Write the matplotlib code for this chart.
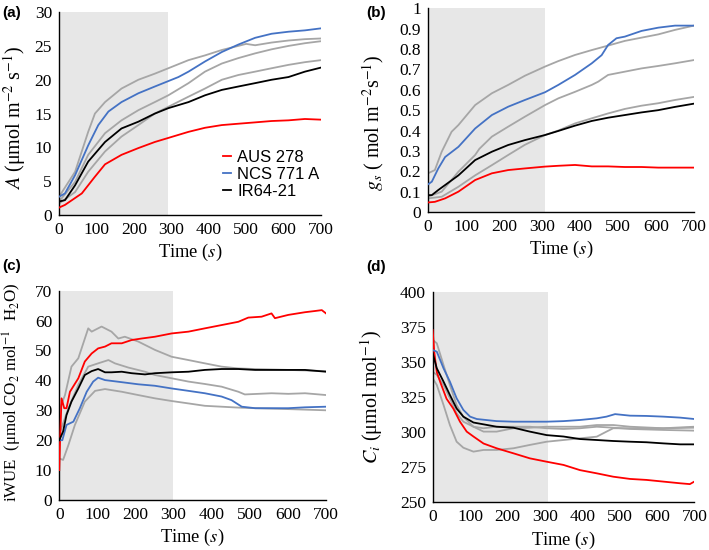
import matplotlib
matplotlib.use("Agg")
import matplotlib.pyplot as plt
from matplotlib.ticker import FuncFormatter

plt.rcParams['font.family'] = ['Liberation Serif', 'DejaVu Serif']
plt.rcParams['mathtext.fontset'] = 'stix'

RED = '#ff0000'
BLUE = '#4472c4'
BLACK = '#000000'
GRAY = '#a6a6a6'
SHADE = '#e7e7e7'

# ---------------- Panel (a): A ----------------
a_red_t = [0, 16, 61, 95, 123, 167, 212, 256, 292, 346, 390, 435, 479, 524, 568, 613, 657, 700]
a_red_v = [1.1, 1.5, 3.2, 5.6, 7.5, 8.9, 9.9, 10.8, 11.4, 12.3, 12.9, 13.3, 13.5, 13.7, 13.9, 14.0, 14.2, 14.1]
a_blue_t = [0, 16, 43, 78, 105, 132, 167, 212, 256, 292, 319, 346, 390, 435, 479, 524, 568, 613, 657, 700]
a_blue_v = [2.7, 3.2, 5.9, 10.3, 13.3, 15.3, 16.7, 18.0, 19.0, 19.8, 20.4, 21.2, 22.7, 24.1, 25.2, 26.2, 26.8, 27.1, 27.3, 27.6]
a_black_t = [0, 16, 43, 78, 123, 167, 212, 256, 292, 346, 390, 435, 479, 524, 568, 613, 657, 700]
a_black_v = [2.0, 2.2, 4.4, 7.9, 10.8, 12.8, 13.8, 15.0, 15.8, 16.7, 17.7, 18.5, 19.0, 19.5, 20.0, 20.4, 21.2, 21.8]
a_g1_t = [0, 43, 78, 96, 123, 167, 212, 256, 292, 346, 390, 435, 479, 500, 524, 568, 613, 657, 700]
a_g1_v = [2.7, 6.4, 12.3, 15.0, 16.7, 18.7, 20.0, 20.9, 21.7, 22.9, 23.6, 24.4, 25.0, 25.3, 25.1, 25.5, 25.8, 26.0, 26.1]
a_g2_t = [0, 43, 78, 123, 167, 212, 256, 292, 346, 390, 435, 479, 524, 568, 613, 657, 700]
a_g2_v = [2.0, 4.9, 8.9, 12.1, 14.0, 15.5, 16.7, 17.7, 19.5, 21.2, 22.4, 23.2, 23.9, 24.5, 25.0, 25.4, 25.7]
a_g3_t = [0, 43, 78, 123, 167, 212, 256, 292, 346, 390, 435, 479, 524, 568, 613, 657, 700]
a_g3_v = [1.7, 3.4, 6.4, 9.4, 11.6, 13.3, 15.0, 16.0, 17.5, 18.7, 20.0, 20.7, 21.2, 21.7, 22.2, 22.6, 22.9]

# ---------------- Panel (b): gs ----------------
b_red_t = [0, 18, 45, 80, 124, 168, 211, 255, 308, 343, 387, 431, 474, 518, 562, 606, 650, 700]
b_red_v = [0.047, 0.05, 0.067, 0.10, 0.157, 0.19, 0.206, 0.214, 0.223, 0.227, 0.231, 0.224, 0.224, 0.221, 0.221, 0.218, 0.218, 0.218]
b_blue_t = [0, 10, 27, 45, 80, 124, 168, 211, 255, 308, 343, 387, 431, 457, 474, 496, 518, 562, 606, 650, 700]
b_blue_v = [0.136, 0.149, 0.214, 0.27, 0.32, 0.41, 0.476, 0.517, 0.55, 0.588, 0.624, 0.673, 0.73, 0.77, 0.82, 0.853, 0.861, 0.889, 0.905, 0.915, 0.915]
b_black_t = [0, 10, 27, 80, 124, 168, 211, 255, 308, 343, 387, 431, 474, 518, 562, 606, 650, 700]
b_black_v = [0.083, 0.083, 0.108, 0.18, 0.255, 0.296, 0.329, 0.353, 0.378, 0.398, 0.424, 0.447, 0.463, 0.476, 0.489, 0.50, 0.516, 0.532]
b_g1_t = [0, 18, 36, 62, 80, 124, 168, 211, 255, 308, 343, 387, 431, 474, 518, 562, 606, 650, 700]
b_g1_v = [0.19, 0.206, 0.296, 0.394, 0.427, 0.525, 0.583, 0.624, 0.669, 0.714, 0.741, 0.771, 0.795, 0.817, 0.84, 0.856, 0.872, 0.894, 0.915]
b_g2_t = [0, 36, 80, 124, 135, 168, 211, 255, 308, 343, 387, 431, 448, 474, 518, 562, 606, 650, 700]
b_g2_v = [0.075, 0.10, 0.198, 0.28, 0.31, 0.37, 0.419, 0.468, 0.525, 0.558, 0.59, 0.624, 0.64, 0.673, 0.689, 0.705, 0.717, 0.73, 0.746]
b_g3_t = [0, 36, 80, 124, 168, 211, 255, 308, 343, 387, 431, 474, 518, 562, 606, 650, 700]
b_g3_v = [0.067, 0.075, 0.124, 0.18, 0.23, 0.28, 0.33, 0.378, 0.40, 0.435, 0.46, 0.484, 0.506, 0.522, 0.534, 0.55, 0.565]

# ---------------- Panel (c): iWUE ----------------
c_red_t = [0, 2, 6, 13, 19, 28, 50, 67, 85, 102, 120, 137, 164, 190, 216, 251, 295, 339, 382, 426, 470, 496, 531, 557, 566, 601, 645, 671, 689, 700]
c_red_v = [10, 19.5, 34, 30.7, 30.7, 36.2, 40.7, 46.3, 49, 50.7, 51.3, 52.4, 52.4, 53.5, 54, 54.6, 55.7, 56.3, 57.4, 58.5, 59.6, 61, 61.3, 62.4, 60.8, 61.9, 62.8, 63.2, 63.5, 62.4]
c_black_t = [0, 10, 19, 32, 50, 67, 85, 102, 120, 137, 164, 190, 225, 251, 295, 339, 382, 426, 470, 514, 557, 601, 645, 700]
c_black_v = [20, 22.9, 28.4, 32.9, 37.3, 41.8, 43.1, 43.8, 42.7, 42.7, 42.9, 42.4, 42.0, 42.4, 42.7, 42.9, 43.5, 43.8, 43.8, 43.5, 43.5, 43.5, 43.5, 42.9]
c_blue_t = [0, 8, 19, 37, 54, 72, 89, 102, 120, 164, 207, 251, 295, 339, 382, 426, 452, 479, 514, 557, 601, 645, 700]
c_blue_v = [20, 20, 25.1, 26.2, 30.7, 36.2, 39.6, 40.9, 40.1, 39.4, 38.7, 38.2, 37.3, 36.5, 35.7, 34.6, 33.4, 31.2, 30.7, 30.7, 30.7, 31.0, 31.2]
c_g1_t = [0, 15, 32, 50, 76, 85, 111, 137, 155, 172, 207, 251, 295, 339, 382, 426, 470, 514, 601, 700]
c_g1_v = [30, 35.1, 44.6, 47.4, 57.4, 56.3, 58, 56.3, 54, 54.6, 53, 50.2, 47.9, 46.8, 45.7, 44.6, 44, 43.8, 43.5, 43.1]
c_g2_t = [0, 24, 50, 76, 102, 129, 146, 181, 225, 251, 295, 339, 382, 426, 470, 487, 557, 601, 645, 700]
c_g2_v = [22, 30.7, 38.5, 44.6, 45.7, 46.8, 45.7, 44.3, 42.9, 41.8, 40.7, 39.6, 38.8, 37.9, 36.2, 35.3, 35.7, 35.5, 35.7, 35.1]
c_g3_t = [0, 10, 24, 41, 67, 94, 120, 164, 207, 251, 295, 339, 382, 426, 470, 514, 601, 700]
c_g3_v = [13.9, 13.4, 18.4, 25.1, 32.9, 36.5, 37.1, 36.2, 35.1, 34, 33.1, 32.3, 31.5, 31.2, 30.9, 30.7, 30.4, 30.0]

# ---------------- Panel (d): Ci ----------------
d_red_t = [0, 4, 11, 20, 37, 55, 73, 91, 109, 136, 171, 216, 260, 305, 350, 394, 439, 483, 528, 572, 617, 662, 688, 700]
d_red_v = [373, 357.6, 343, 336, 324, 317, 307.6, 300.5, 297, 292, 288.6, 285, 281.4, 279, 276.7, 273, 270.7, 268.3, 266.7, 266, 264.8, 263.6, 263, 264.8]
d_blue_t = [0, 11, 29, 46, 64, 82, 100, 118, 171, 216, 260, 305, 350, 394, 439, 465, 488, 528, 572, 617, 662, 700]
d_blue_v = [358.8, 357.6, 345.7, 336.2, 324.3, 316, 311.2, 309.5, 308, 307.6, 307.6, 307.6, 308, 308.8, 310, 311.2, 313, 311.9, 311.7, 311.2, 310.5, 309.5]
d_black_t = [0, 11, 29, 46, 64, 82, 109, 136, 171, 216, 260, 305, 350, 394, 439, 483, 528, 572, 617, 662, 700]
d_black_v = [356.4, 345.7, 336.2, 326.7, 317, 311.2, 307, 305.7, 304, 303.3, 300.5, 298, 297, 295.2, 294.5, 293.8, 293.3, 292.9, 292.1, 291.4, 291.4]
d_g1_t = [0, 11, 29, 46, 64, 82, 109, 136, 171, 216, 260, 305, 350, 394, 439, 483, 528, 617, 700]
d_g1_v = [366, 363.6, 348, 333.8, 319.5, 311, 304, 300.5, 300.5, 302.9, 303.3, 304, 304, 304, 305.2, 305.2, 304, 302.9, 304]
d_g2_t = [0, 11, 29, 46, 64, 82, 109, 136, 171, 216, 260, 305, 350, 394, 439, 483, 528, 617, 700]
d_g2_v = [343.3, 341, 333.8, 324.3, 313.6, 307.6, 304, 302.9, 304, 304, 304, 302.9, 302.4, 302.9, 304, 303.3, 302.4, 301.7, 301.2]
d_g3_t = [0, 11, 29, 46, 64, 82, 109, 136, 171, 216, 260, 305, 350, 394, 439, 465, 483, 528, 617, 700]
d_g3_v = [338.6, 333.8, 319.5, 305.2, 293.3, 289, 286.2, 287.4, 287.4, 288.6, 291, 293.3, 294.5, 295.7, 296.9, 300.5, 302.9, 302.9, 302.9, 303.3]

shade_end = {'a': 290, 'b': 308, 'c': 298, 'd': 308}
legend_labels = ['AUS 278', 'NCS 771 A', 'IR64-21']

fig = plt.figure(figsize=(7.09, 5.50), dpi=100)

positions = {
    'a': [0.0832, 0.609, 0.3696, 0.369],
    'b': [0.6037, 0.6145, 0.3751, 0.3704],
    'c': [0.0836, 0.0909, 0.3762, 0.3806],
    'd': [0.6103, 0.0867, 0.3690, 0.3818],
}

def style(ax, key, ylim, yticks, ylabel, ysize, ylab_xy):
    ax.axvspan(0, shade_end[key], color=SHADE, lw=0, zorder=0)
    ax.set_xlim(0, 700)
    ax.set_ylim(*ylim)
    ax.set_xticks(range(0, 701, 100))
    ax.set_yticks(yticks)
    ax.yaxis.set_major_formatter(FuncFormatter(lambda v, p: f'{v:g}'))
    for s in ['top', 'right']:
        ax.spines[s].set_visible(False)
    for s in ['left', 'bottom']:
        ax.spines[s].set_color('#000000')
        ax.spines[s].set_linewidth(1.0)
    ax.tick_params(length=0, labelsize=12.5, pad=5)
    ax.set_xlabel('Time ($s$)', fontsize=13.3, labelpad=3)
    ax.set_ylabel(ylabel, fontsize=ysize)
    ax.yaxis.label.set_verticalalignment('center')
    ax.yaxis.set_label_coords(*ylab_xy)

lw = 1.3

def draw(ax, grays, red, blue, black):
    for t, v in grays:
        ax.plot(t, v, color=GRAY, lw=lw, zorder=2)
    l1, = ax.plot(red[0], red[1], color=RED, lw=lw, zorder=3)
    l2, = ax.plot(blue[0], blue[1], color=BLUE, lw=lw, zorder=3)
    l3, = ax.plot(black[0], black[1], color=BLACK, lw=lw, zorder=4)
    return [l1, l2, l3]

axa = fig.add_axes(positions['a'])
hs = draw(axa, [(a_g1_t, a_g1_v), (a_g2_t, a_g2_v), (a_g3_t, a_g3_v)],
          (a_red_t, a_red_v), (a_blue_t, a_blue_v), (a_black_t, a_black_v))
style(axa, 'a', (0, 30), range(0, 31, 5), r'$A$ (μmol m$^{-2}$ s$^{-1}$)', 14.5, (-0.168, 0.478))
leg = axa.legend(hs, legend_labels, loc='upper left', bbox_to_anchor=(0.60, 0.355),
                 frameon=False, handlelength=0.5, handletextpad=0.36,
                 labelspacing=0.12, borderaxespad=0,
                 prop={'family': 'Liberation Sans', 'size': 12})

axb = fig.add_axes(positions['b'])
draw(axb, [(b_g1_t, b_g1_v), (b_g2_t, b_g2_v), (b_g3_t, b_g3_v)],
     (b_red_t, b_red_v), (b_blue_t, b_blue_v), (b_black_t, b_black_v))
style(axb, 'b', (0, 1), [i / 10 for i in range(11)], r'$g_s$ ( mol m$^{-2}$s$^{-1}$)', 14.5, (-0.207, 0.44))

axc = fig.add_axes(positions['c'])
draw(axc, [(c_g1_t, c_g1_v), (c_g2_t, c_g2_v), (c_g3_t, c_g3_v)],
     (c_red_t, c_red_v), (c_blue_t, c_blue_v), (c_black_t, c_black_v))
style(axc, 'c', (0, 70), range(0, 71, 10), r'iWUE  (μmol CO$_2$ mol$^{-1}$  H$_2$O)', 12.2, (-0.174, 0.515))

axd = fig.add_axes(positions['d'])
draw(axd, [(d_g1_t, d_g1_v), (d_g2_t, d_g2_v), (d_g3_t, d_g3_v)],
     (d_red_t, d_red_v), (d_blue_t, d_blue_v), (d_black_t, d_black_v))
style(axd, 'd', (250, 400), range(250, 401, 25), r'$C_i$ (μmol mol$^{-1}$)', 14.5, (-0.232, 0.5))

panel_font = {'family': 'Liberation Sans', 'weight': 'bold', 'size': 11}
fig.text(0.003, 0.976, '(a)', ha='left', va='center', **panel_font)
fig.text(0.516, 0.976, '(b)', ha='left', va='center', **panel_font)
fig.text(0.003, 0.516, '(c)', ha='left', va='center', **panel_font)
fig.text(0.516, 0.514, '(d)', ha='left', va='center', **panel_font)

fig.savefig('out.png', dpi=100)
